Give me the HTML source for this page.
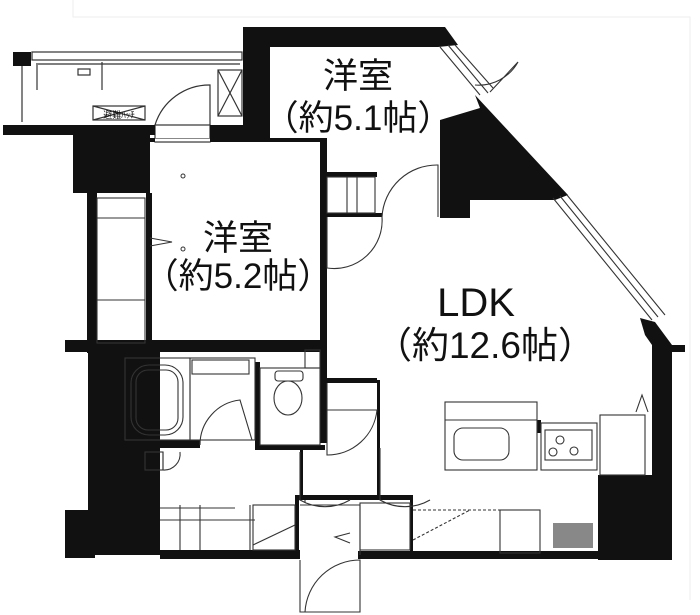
<!DOCTYPE html>
<html><head><meta charset="utf-8"><style>
html,body{margin:0;padding:0;background:#fff;width:700px;height:615px;overflow:hidden}
svg{display:block}
text{font-family:"Liberation Sans","Noto Sans CJK JP",sans-serif;fill:#111;text-anchor:middle}
</style></head><body>
<svg width="700" height="615" viewBox="0 0 700 615" xmlns="http://www.w3.org/2000/svg">
<g fill="none" stroke="#eee" stroke-width="1"><path d="M73 0V17H690V600"/></g>
<g stroke="#333" stroke-width="1.2" fill="none">
<rect x="32" y="52" width="210" height="8"/>
<line x1="36" y1="64" x2="240" y2="64"/>
<line x1="37" y1="65" x2="37" y2="90"/><line x1="102" y1="62" x2="102" y2="90"/>
<line x1="22" y1="66" x2="22" y2="122"/>
<rect x="218" y="70" width="24" height="46"/><path d="M218 70L242 116M242 70L218 116"/>
<rect x="93" y="106" width="52" height="14"/><path d="M93 106L145 120M145 106L93 120"/>
<rect x="78" y="69" width="12" height="6"/>
<path d="M155 125A57 57 0 0 1 210 85V125"/>
<rect x="155" y="125" width="55" height="17"/>
</g>
<rect x="13" y="52" width="18" height="14" fill="#111"/>
<text x="119" y="118" font-size="9">避難ﾊｯﾁ</text>
<g fill="#111">
<rect x="3" y="125" width="152" height="10"/>
<rect x="73" y="133" width="77" height="60"/>
<rect x="87" y="193" width="10" height="160"/>
<rect x="146" y="193" width="6" height="152"/>
<rect x="210" y="125" width="35" height="15"/>
<polygon points="243,27 445,27 458,45 438,47 270,47 270,140 243,140"/>
<rect x="150" y="138" width="175" height="4"/>
<rect x="320" y="138" width="7" height="305"/>
<polygon points="475,95 568,195 555,200 470,200 470,218 440,218 440,120 480,108"/>
<rect x="325" y="172" width="52" height="5"/>
<rect x="325" y="213" width="57" height="4"/>
<polygon points="640,318 655,322 672,345 685,345 685,352 672,352 672,560 598,560 598,475 652,475 652,345 645,335"/>
<rect x="65" y="340" width="255" height="12"/>
<rect x="88" y="350" width="72" height="205"/>
<rect x="65" y="510" width="30" height="48"/>
<rect x="160" y="550" width="140" height="9"/>
<rect x="358" y="551" width="242" height="8"/>
<rect x="122" y="440" width="78" height="8"/>
<rect x="255" y="362" width="5" height="88"/>
<rect x="255" y="445" width="70" height="5"/>
<rect x="320" y="378" width="57" height="5"/>
<rect x="377" y="380" width="3" height="120"/>
<rect x="295" y="495" width="118" height="5"/>
<rect x="410" y="495" width="3" height="60"/>
<rect x="295" y="495" width="4" height="60"/>
<rect x="300" y="450" width="3" height="50"/>
<rect x="537" y="420" width="4" height="13"/>
</g>
<rect x="553" y="523" width="40" height="25" fill="#888"/>
<g stroke="#333" stroke-width="1.1" fill="none">
<path d="M440 47L480 95M448 45L488 93M455 45L493 88"/>
<path d="M553 198L652 320M560 196L658 317M567 195L665 315"/>
<path d="M475 85A45 45 0 0 0 518 62L490 92"/>
<path d="M382 217A55 55 0 0 1 438 165V217"/>
<path d="M327 217V268A48 48 0 0 0 382 217"/>
<rect x="327" y="177" width="48" height="36"/><line x1="347" y1="177" x2="347" y2="213"/><line x1="357" y1="177" x2="357" y2="213"/>
<rect x="97" y="198" width="48" height="145"/><line x1="97" y1="218" x2="145" y2="218"/><line x1="97" y1="300" x2="145" y2="300"/>
<path d="M150 238L172 242L150 246"/>
<rect x="125" y="358" width="65" height="82"/>
<rect x="131" y="365" width="52" height="70" rx="18"/>
<rect x="136" y="370" width="42" height="60" rx="12"/>
<rect x="190" y="358" width="65" height="82"/>
<rect x="192" y="360" width="57" height="14"/>
<path d="M200 445A45 45 0 0 1 240 400L252 440"/>
<rect x="260" y="368" width="60" height="77"/>
<ellipse cx="288" cy="398" rx="14" ry="17"/><rect x="275" y="371" width="28" height="10" rx="3"/>
<rect x="305" y="350" width="15" height="18"/>
<rect x="145" y="452" width="18" height="18"/><path d="M163 452V470A16 16 0 0 0 180 452"/>
<path d="M160 508H235M160 520H255M250 505V550M200 505V550M180 505V550"/>
<rect x="253" y="505" width="42" height="45"/><path d="M253 545L295 525"/>
<path d="M327 383V455A50 50 0 0 0 377 410H327"/>
<path d="M300 452V500A50 50 0 0 0 350 500"/>
<path d="M300 505H360V555M305 503L305 500"/>
<path d="M380 448V500A50 50 0 0 0 430 500"/>
<rect x="360" y="503" width="50" height="47"/>
<path d="M300 560V612H360V560A55 55 0 0 0 305 612"/>
<path d="M350 543L335 537L350 533"/>
<path d="M413 510H500M413 540L470 510" stroke-dasharray="3 2"/>
<rect x="500" y="510" width="40" height="43"/>
<rect x="445" y="402" width="92" height="68"/>
<line x1="445" y1="420" x2="537" y2="420"/>
<rect x="454" y="428" width="55" height="32" rx="9"/>
<rect x="541" y="423" width="56" height="47"/>
<rect x="545" y="430" width="47" height="30"/>
<circle cx="560" cy="440" r="4"/><circle cx="553" cy="452" r="4"/><circle cx="574" cy="451" r="4"/>
<rect x="600" y="415" width="45" height="60"/>
<path d="M636 412L642 395L648 412"/>
</g>
<g stroke="#fff" stroke-width="3"><line x1="155" y1="140" x2="210" y2="140"/></g>
<text x="358" y="88" font-size="35">洋室</text>
<text x="358" y="130" font-size="35">（約5.1帖）</text>
<text x="238" y="250" font-size="35">洋室</text>
<text x="238" y="288" font-size="35">（約5.2帖）</text>
<text x="476" y="316" font-size="40">LDK</text>
<text x="485" y="358" font-size="37">（約12.6帖）</text>
<circle cx="183" cy="176" r="2" fill="none" stroke="#333"/>
<circle cx="183" cy="249" r="2" fill="none" stroke="#333"/>
</svg>
</body></html>
